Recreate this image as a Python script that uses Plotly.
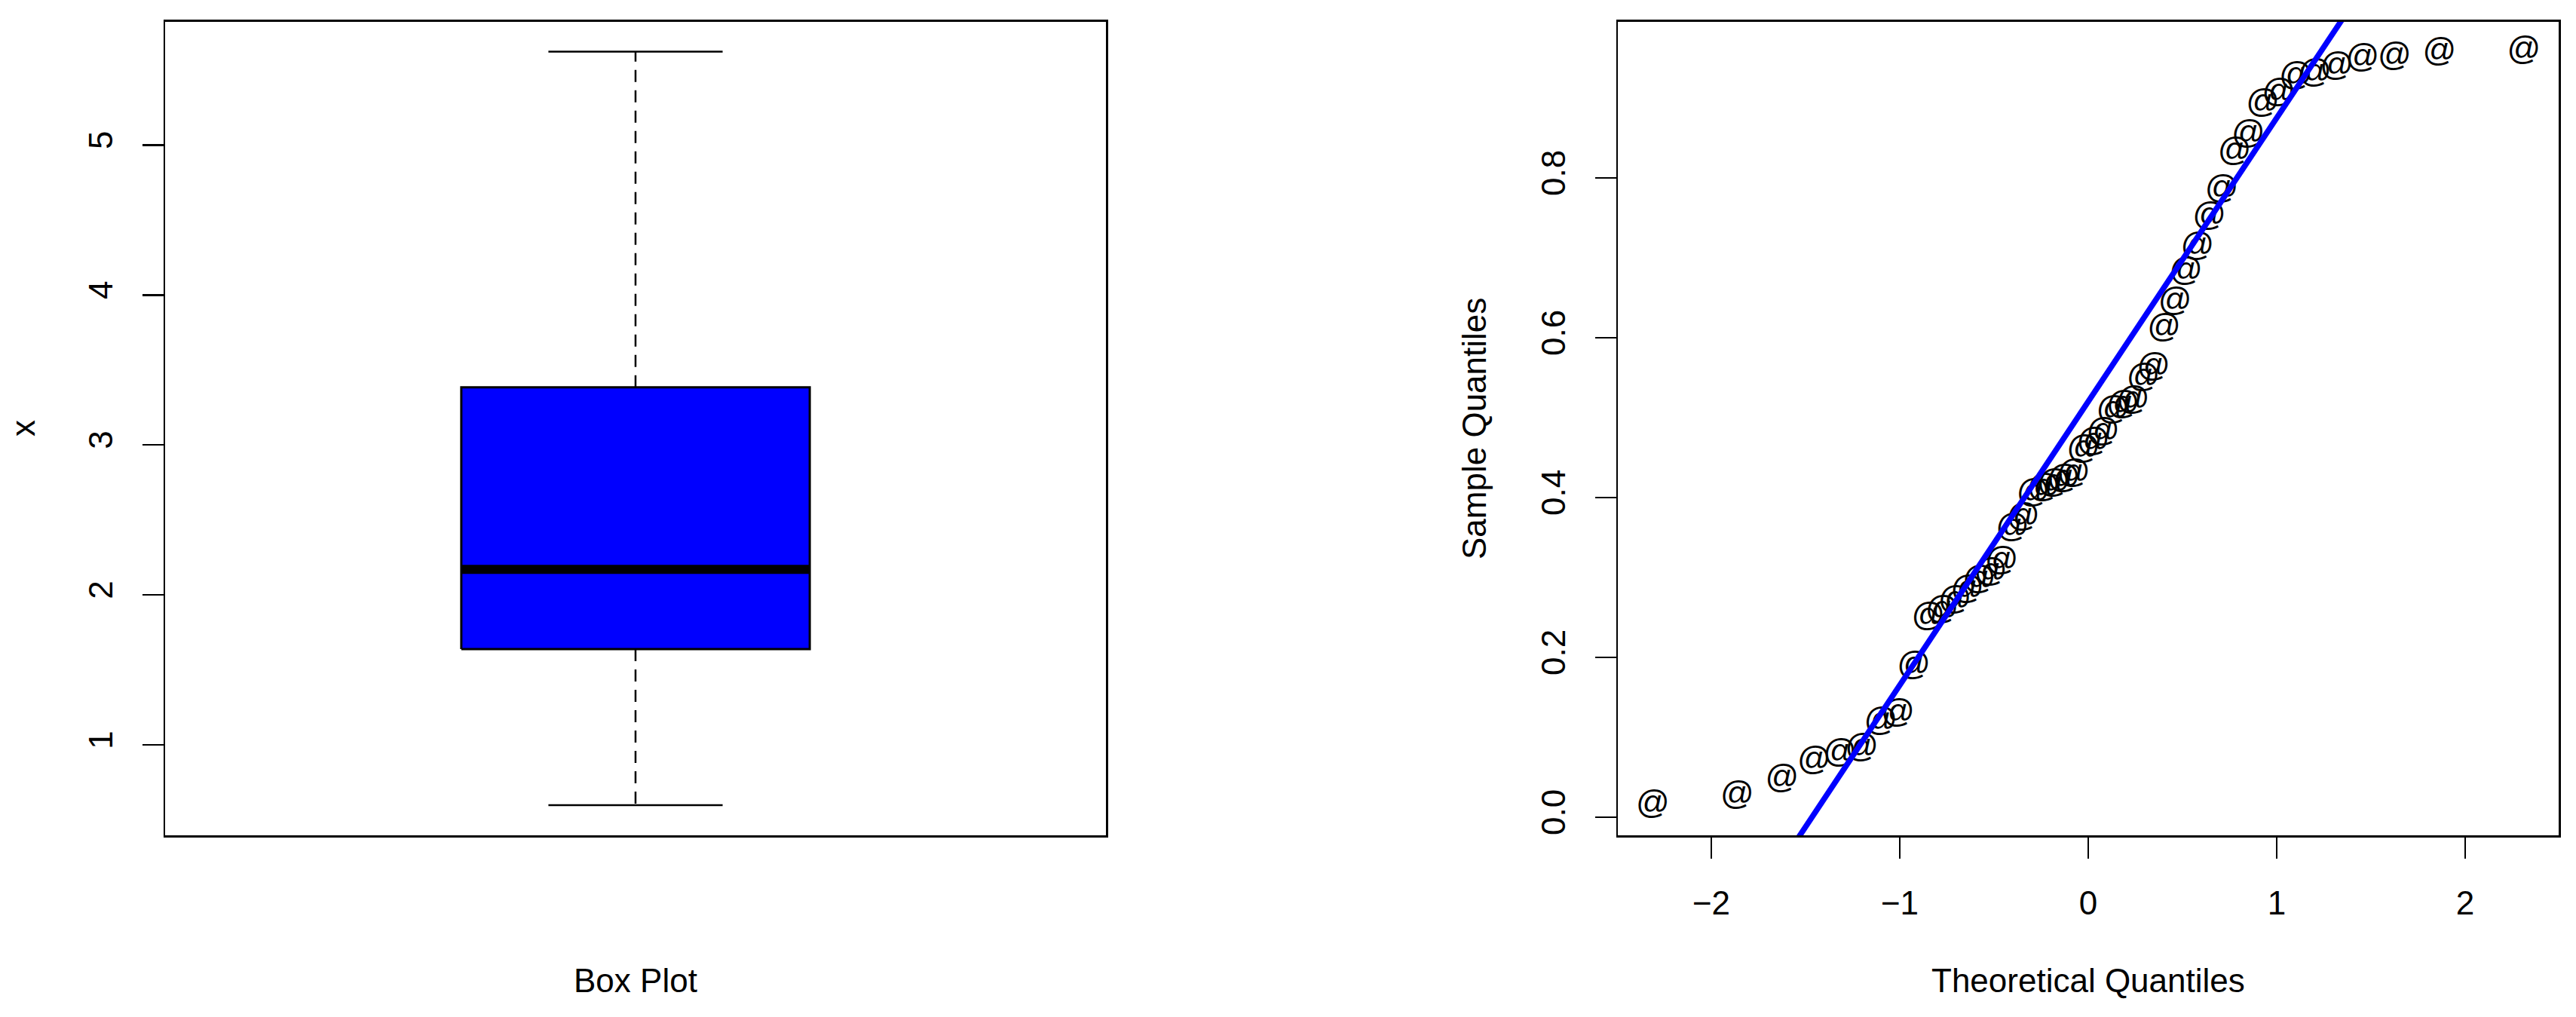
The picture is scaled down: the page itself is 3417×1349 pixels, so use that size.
import plotly.graph_objects as go

# ---------------- data ----------------
# Box plot summary statistics of x (lower whisker, Q1, median, Q3, upper whisker)
box_lower = 0.598
box_q1 = 1.639
box_median = 2.171
box_q3 = 3.385
box_upper = 5.623
box_ticks = [1, 2, 3, 4, 5]

# Normal Q-Q plot: theoretical quantiles (n = 48) and sorted sample values
theoretical = [-2.311, -1.863, -1.625, -1.455, -1.318, -1.202, -1.101, -1.010,
               -0.926, -0.849, -0.776, -0.708, -0.642, -0.579, -0.518, -0.460,
               -0.402, -0.346, -0.292, -0.237, -0.184, -0.131, -0.078, -0.026,
               0.026, 0.078, 0.131, 0.184, 0.237, 0.292, 0.346, 0.402,
               0.460, 0.518, 0.579, 0.642, 0.708, 0.776, 0.849, 0.926,
               1.010, 1.101, 1.202, 1.318, 1.455, 1.625, 1.863, 2.311]
sample = [0.015, 0.026, 0.047, 0.070, 0.079, 0.086, 0.119, 0.129,
          0.189, 0.250, 0.258, 0.271, 0.284, 0.296, 0.306, 0.320,
          0.361, 0.374, 0.405, 0.411, 0.417, 0.423, 0.429, 0.459,
          0.469, 0.481, 0.508, 0.515, 0.521, 0.549, 0.562, 0.611,
          0.644, 0.682, 0.713, 0.751, 0.785, 0.832, 0.854, 0.892,
          0.906, 0.926, 0.930, 0.939, 0.949, 0.951, 0.957, 0.958]
qq_xticks = [-2, -1, 0, 1, 2]
qq_xticklabels = ["\u22122", "\u22121", "0", "1", "2"]
qq_yticks = [0.0, 0.2, 0.4, 0.6, 0.8]
qq_yticklabels = ["0.0", "0.2", "0.4", "0.6", "0.8"]

# ---------------- helpers ----------------
W, H = 3417, 1349
FONT = "Liberation Sans, Arial, Helvetica, sans-serif"
FS = 44
BLUE = "#0000FF"


def ext(lo, hi, f=0.04):
    d = (hi - lo) * f
    return [lo - d, hi + d]


def quantile7(vals, p):
    s = sorted(vals)
    h = (len(s) - 1) * p
    i = int(h)
    frac = h - i
    if i + 1 < len(s):
        return s[i] + frac * (s[i + 1] - s[i])
    return s[i]


# qqline through the first and third quartiles
z25, z75 = -0.6745, 0.6745
y25, y75 = quantile7(sample, 0.25), quantile7(sample, 0.75)
slope = (y75 - y25) / (z75 - z25)
intercept = y25 - slope * z25

box_center = 1.0
box_half = 0.2
cap_half = 0.1

xr_box = ext(box_center - 0.5, box_center + 0.5)
yr_box = ext(box_lower, box_upper)
xr_qq = ext(min(theoretical), max(theoretical))
yr_qq = ext(min(sample), max(sample))

fig = go.Figure()

# ---- box plot (left) ----
fig.add_trace(go.Scatter(
    x=[box_center - box_half, box_center + box_half, box_center + box_half,
       box_center - box_half, box_center - box_half],
    y=[box_q1, box_q1, box_q3, box_q3, box_q1],
    mode="lines", fill="toself", fillcolor=BLUE,
    line=dict(color="black", width=3), xaxis="x", yaxis="y",
    showlegend=False, hoverinfo="skip"))
fig.add_trace(go.Scatter(
    x=[box_center - box_half, box_center + box_half], y=[box_median, box_median],
    mode="lines", line=dict(color="black", width=12), xaxis="x", yaxis="y",
    showlegend=False, hoverinfo="skip"))
for a, b in [(box_q3, box_upper), (box_q1, box_lower)]:
    fig.add_trace(go.Scatter(
        x=[box_center, box_center], y=[a, b], mode="lines",
        line=dict(color="black", width=2.5, dash="16px,11px"),
        xaxis="x", yaxis="y", showlegend=False, hoverinfo="skip"))
for v in [box_upper, box_lower]:
    fig.add_trace(go.Scatter(
        x=[box_center - cap_half, box_center + cap_half], y=[v, v], mode="lines",
        line=dict(color="black", width=2.5), xaxis="x", yaxis="y",
        showlegend=False, hoverinfo="skip"))

# ---- Q-Q plot (right) ----
fig.add_trace(go.Scatter(
    x=theoretical, y=sample, mode="text", text=["@"] * len(sample),
    textposition="middle center",
    textfont=dict(family=FONT, size=FS, color="black"),
    xaxis="x2", yaxis="y2", showlegend=False, hoverinfo="skip"))
fig.add_trace(go.Scatter(
    x=xr_qq, y=[intercept + slope * v for v in xr_qq], mode="lines",
    line=dict(color=BLUE, width=7.5), xaxis="x2", yaxis="y2",
    showlegend=False, hoverinfo="skip"))

ydom = [1 - 1108 / H, 1 - 28.5 / H]
axis_common = dict(showline=True, mirror=True, linecolor="black", linewidth=2.5,
                   showgrid=False, zeroline=False, ticks="outside", ticklen=28,
                   tickwidth=2.5, tickcolor="black",
                   tickfont=dict(family=FONT, size=FS, color="black"))

fig.update_layout(
    width=W, height=H, autosize=False,
    margin=dict(l=0, r=0, t=0, b=0),
    paper_bgcolor="white", plot_bgcolor="white",
    font=dict(family=FONT, size=FS, color="black"),
    xaxis=dict(domain=[219 / W, 1467 / W], range=xr_box, showline=True, mirror=True,
               linecolor="black", linewidth=2.5, showgrid=False, zeroline=False,
               showticklabels=False, ticks=""),
    yaxis=dict(domain=ydom, range=yr_box, tickvals=box_ticks,
               ticktext=[str(t) for t in box_ticks], tickangle=-90,
               ticklabelstandoff=22, anchor="x", **axis_common),
    xaxis2=dict(domain=[2146 / W, 3394 / W], range=xr_qq, tickvals=qq_xticks,
                ticktext=qq_xticklabels, anchor="y2", ticklabelstandoff=22,
                **axis_common),
    yaxis2=dict(domain=ydom, range=yr_qq, tickvals=qq_yticks, ticktext=qq_yticklabels,
                tickangle=-90, anchor="x2", ticklabelstandoff=22, **axis_common),
    annotations=[
        dict(text="x", x=30 / W, y=1 - 568 / H, xref="paper", yref="paper",
             textangle=-90, showarrow=False, xanchor="center", yanchor="middle",
             font=dict(family=FONT, size=FS, color="black")),
        dict(text="Box Plot", x=843 / W, y=1 - 1300 / H, xref="paper", yref="paper",
             showarrow=False, xanchor="center", yanchor="middle",
             font=dict(family=FONT, size=FS, color="black")),
        dict(text="Sample Quantiles", x=1955 / W, y=1 - 568 / H, xref="paper",
             yref="paper", textangle=-90, showarrow=False, xanchor="center",
             yanchor="middle", font=dict(family=FONT, size=FS, color="black")),
        dict(text="Theoretical Quantiles", x=2770 / W, y=1 - 1300 / H, xref="paper",
             yref="paper", showarrow=False, xanchor="center", yanchor="middle",
             font=dict(family=FONT, size=FS, color="black")),
    ],
)

fig.write_html("out.html",
               config={"displayModeBar": False, "staticPlot": True},
               post_script="document.body.style.margin='0';"
                           "document.body.style.overflow='hidden';")
